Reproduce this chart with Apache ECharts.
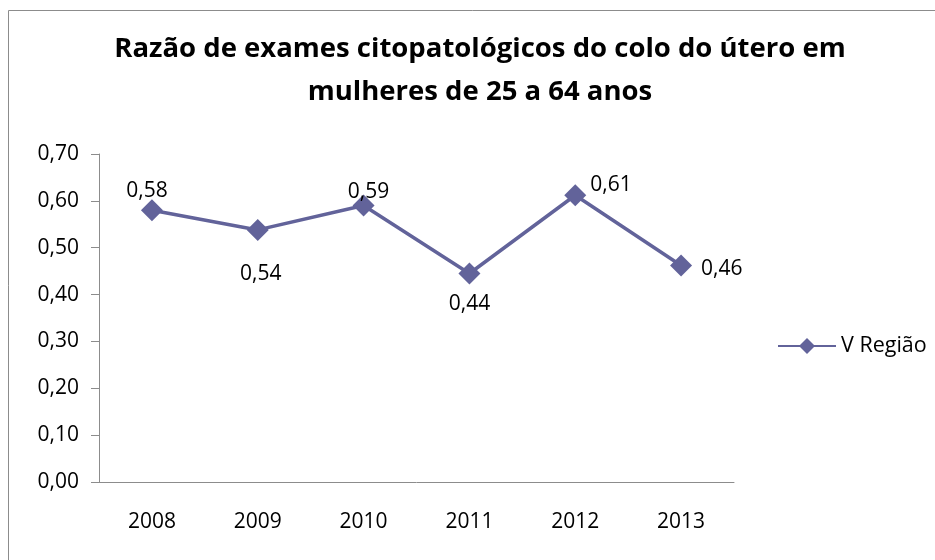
<!DOCTYPE html>
<html>
<head>
    <meta charset="UTF-8">
    <title></title>
    <script type="text/javascript" src="https://cdn.jsdelivr.net/npm/echarts@6/dist/echarts.min.js"></script>
    <style type="text/css">
        body { margin: 0; background: #fff; }
        #chart { width: 935px; height: 560px; }
    </style>
</head>
<body>
<div id="chart"></div>
<script type="text/javascript">
    var years = ['2008', '2009', '2010', '2011', '2012', '2013'];
    var razao = [0.58, 0.538, 0.59, 0.445, 0.612, 0.462];
    var rotulos = ['0,58', '0,54', '0,59', '0,44', '0,61', '0,46'];

    var cor = '#62639a';
    var fonte = '"Open Sans", "Liberation Sans", sans-serif';

    // where Excel put each data label
    var labelPos = [
        { position: 'top', offset: [-5, 7] },
        { position: 'bottom', offset: [3, 18] },
        { position: 'top', offset: [5, 13] },
        { position: 'bottom', offset: [0, 4] },
        { position: 'right', offset: [-1, -10] },
        { position: 'right', offset: [4, 3] }
    ];

    var pontos = [];
    for (var i = 0; i < razao.length; i++) {
        pontos.push({
            value: razao[i],
            label: { position: labelPos[i].position, offset: labelPos[i].offset, formatter: rotulos[i] }
        });
    }

    var myChart = echarts.init(document.getElementById('chart'));
    myChart.setOption({
        animation: false,
        title: {
            text: 'Razão de exames citopatológicos do colo do útero em\nmulheres de 25 a 64 anos',
            left: 475,
            textAlign: 'center',
            top: 23,
            textStyle: { fontFamily: fonte, fontWeight: 'bold', fontSize: 27.5, lineHeight: 43, color: '#000' }
        },
        graphic: [{
            type: 'rect',
            shape: { x: 8.5, y: 10.5, width: 960, height: 600 },
            style: { fill: 'none', stroke: '#8c8c8c', lineWidth: 1 },
            silent: true
        }],
        legend: {
            data: ['V Região'],
            left: 772,
            top: 330,
            itemWidth: 58,
            itemHeight: 20,
            itemGap: 5,
            textStyle: { fontFamily: fonte, fontSize: 21.5, color: '#000' }
        },
        grid: { left: 99, top: 154, width: 635, height: 328, containLabel: false },
        xAxis: {
            type: 'category',
            data: years,
            boundaryGap: true,
            axisLine: { lineStyle: { color: '#8c8c8c' } },
            axisTick: { length: 8, lineStyle: { color: '#8c8c8c' } },
            axisLabel: { color: '#000', fontFamily: fonte, fontSize: 21, margin: 30 }
        },
        yAxis: {
            type: 'value',
            min: 0,
            max: 0.7,
            interval: 0.1,
            axisLine: { show: true, lineStyle: { color: '#8c8c8c' } },
            axisTick: { show: true, length: 8, lineStyle: { color: '#8c8c8c' } },
            splitLine: { show: false },
            axisLabel: {
                color: '#000', fontFamily: fonte, fontSize: 21, margin: 20,
                formatter: function (v) { return v.toFixed(2).replace('.', ','); }
            }
        },
        series: [{
            name: 'V Região',
            type: 'line',
            data: pontos,
            symbol: 'diamond',
            symbolSize: 22,
            lineStyle: { color: cor, width: 3.5 },
            itemStyle: { color: cor },
            label: { show: true, color: '#000', fontFamily: fonte, fontSize: 21 }
        }]
    });
</script>
</body>
</html>
